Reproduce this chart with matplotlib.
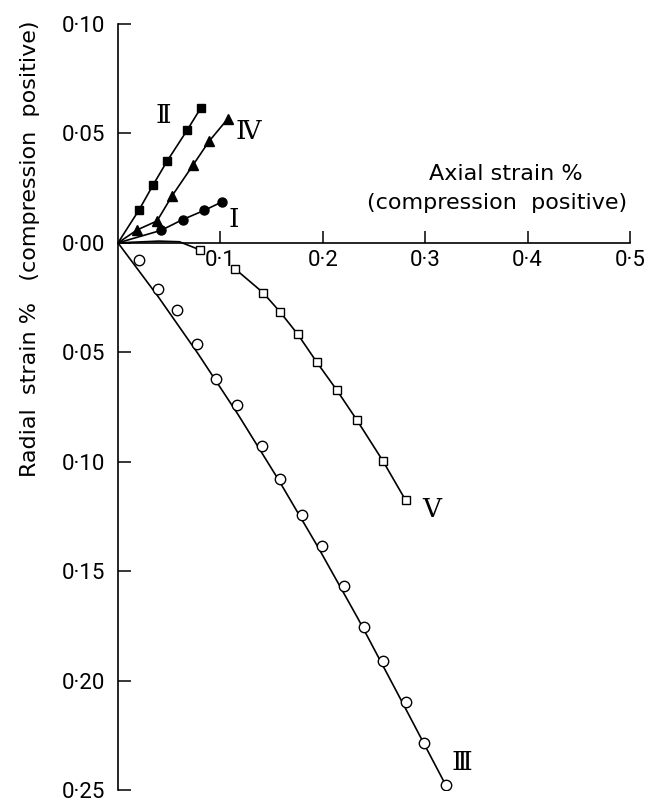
import matplotlib
matplotlib.use("Agg")
import matplotlib.pyplot as plt

# ---------------- data ----------------
# Curve I (filled circles)
I_x = [0.0, 0.042, 0.063, 0.084, 0.102]
I_y = [0.0, 0.0057, 0.0106, 0.0148, 0.0188]
# Curve II (filled squares)
II_x = [0.0, 0.0205, 0.0342, 0.0479, 0.0674, 0.0811]
II_y = [0.0, 0.0150, 0.0264, 0.0373, 0.0514, 0.0618]
# Curve IV (filled triangles)
IV_x = [0.0, 0.0186, 0.0381, 0.0527, 0.0732, 0.0889, 0.1074]
IV_y = [0.0, 0.0059, 0.0100, 0.0214, 0.0355, 0.0464, 0.0568]
# Curve V (open squares) and its drawn line
V_x = [0.080, 0.1141, 0.1415, 0.158, 0.1756, 0.1941, 0.2137, 0.2332, 0.2585, 0.281]
V_y = [-0.0032, -0.0118, -0.0227, -0.0314, -0.0418, -0.0545, -0.0673, -0.0809, -0.0995, -0.1177]
V_line_x = [0.0, 0.040, 0.060] + V_x
V_line_y = [0.0, 0.0008, 0.0005] + V_y
# Curve III (open circles) and its drawn line
III_x = [0.0205, 0.039, 0.0576, 0.0771, 0.0956, 0.1161, 0.1405, 0.158, 0.1795,
         0.199, 0.2205, 0.24, 0.2585, 0.281, 0.2985, 0.320]
III_y = [-0.0077, -0.0209, -0.0309, -0.0464, -0.0623, -0.0741, -0.0927, -0.1077,
         -0.1245, -0.1386, -0.1568, -0.1755, -0.1909, -0.2100, -0.2286, -0.2477]
III_line_x = [0.0, 0.0391, 0.0781, 0.1172, 0.1563, 0.1953, 0.2344, 0.2734, 0.320]
III_line_y = [0.0, -0.0245, -0.0506, -0.0784, -0.1079, -0.1390, -0.1717, -0.2062, -0.2477]

# curve labels
curve_names = ["Ⅱ", "Ⅳ", "Ⅰ", "Ⅴ", "Ⅲ"]
curve_label_x = [0.0439, 0.1268, 0.1132, 0.3063, 0.3356]
curve_label_y = [0.0582, 0.0509, 0.0109, -0.1218, -0.2373]

x_ticks = [0.1, 0.2, 0.3, 0.4, 0.5]
x_ticklabels = ["0·1", "0·2", "0·3", "0·4", "0·5"]
y_ticks = [0.10, 0.05, 0.0, -0.05, -0.10, -0.15, -0.20, -0.25]
y_ticklabels = ["0·10", "0·05", "0·00", "0·05", "0·10", "0·15", "0·20", "0·25"]

plt.rcParams["font.family"] = ["Roboto", "DejaVu Sans"]
LABEL_FONT = ["DejaVu Sans"]

fig = plt.figure(figsize=(6.48, 8.05), dpi=100)
ax = fig.add_axes([118 / 648, 15 / 805, 512 / 648, 766 / 805])
ax.set_xlim(0, 0.5)
ax.set_ylim(-0.25, 0.10)

lw = 1.2
k = "black"
ax.plot(II_x, II_y, "-", color=k, lw=lw, zorder=2)
ax.plot(II_x[1:], II_y[1:], "s", color=k, ms=6, zorder=6)
ax.plot(IV_x, IV_y, "-", color=k, lw=lw, zorder=2)
ax.plot(IV_x[1:], IV_y[1:], "^", color=k, ms=6.5, zorder=6)
ax.plot(I_x, I_y, "-", color=k, lw=lw, zorder=2)
ax.plot(I_x[1:], I_y[1:], "o", color=k, ms=6.5, zorder=6)
ax.plot(V_line_x, V_line_y, "-", color=k, lw=lw, zorder=2)
ax.plot(V_x, V_y, "s", mfc="white", mec=k, mew=1.0, ms=6, zorder=6)
ax.plot(III_line_x, III_line_y, "-", color=k, lw=lw, zorder=2)
ax.plot(III_x, III_y, "o", mfc="white", mec=k, mew=1.0, ms=7.5, zorder=6)

for name, lx, ly in zip(curve_names, curve_label_x, curve_label_y):
    ax.text(lx, ly, name, ha="center", va="center", fontsize=19,
            family=["DejaVu Serif", "DejaVu Sans"], zorder=7)

# spines
for s in ["top", "right"]:
    ax.spines[s].set_visible(False)
ax.spines["bottom"].set_position(("data", 0))
ax.spines["left"].set_linewidth(1.2)
ax.spines["bottom"].set_linewidth(1.2)

ax.set_xticks(x_ticks)
ax.set_xticklabels(x_ticklabels)
ax.set_yticks(y_ticks)
ax.set_yticklabels(y_ticklabels)
ax.tick_params(axis="x", direction="in", length=9, width=1.1, pad=5, labelsize=16)
ax.tick_params(axis="y", direction="in", length=9, width=1.1, pad=9, labelsize=16)
ax.xaxis.set_zorder(5)
for t in ax.get_xticklabels():
    t.set_bbox(dict(facecolor="white", edgecolor="none", pad=1.0))

fig.text(506 / 648, 1 - 174 / 805, "Axial strain %",
         ha="center", va="center", fontsize=16, family=LABEL_FONT)
fig.text(497 / 648, 1 - 203 / 805, "(compression  positive)",
         ha="center", va="center", fontsize=16, family=LABEL_FONT)
fig.text(30 / 648, 1 - 249 / 805, "Radial  strain %   (compression  positive)",
         rotation=90, ha="center", va="center", fontsize=16, family=LABEL_FONT)

fig.savefig("out.png", dpi=100, facecolor="white")
